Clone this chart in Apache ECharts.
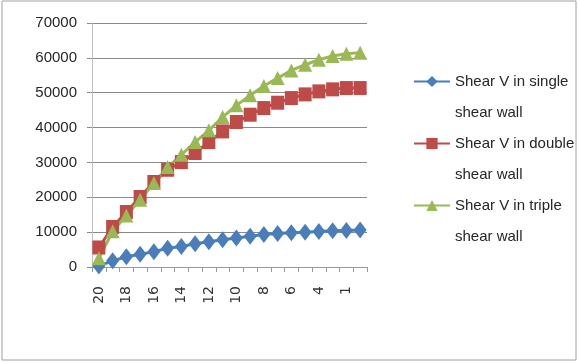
<!DOCTYPE html>
<html>
<head>
<meta charset="utf-8">
<script src="https://cdn.jsdelivr.net/npm/echarts@6/dist/echarts.min.js"></script>
<style>
  html, body { margin: 0; padding: 0; background: #fff; }
  #chart { width: 578px; height: 362px; }
</style>
</head>
<body>
<div id="chart"></div>
<script>
// Storey labels along the x axis (top storey first)
const storeys = ['20','19','18','17','16','15','14','13','12','11','10','9','8','7','6','5','4','3','1','0'];

// Storey shear V for each wall arrangement
const shearSingle = [300, 1760, 2940, 3630, 4410, 5390, 5880, 6670, 7250, 7840, 8330, 8820, 9310, 9610, 9800, 10000, 10200, 10390, 10490, 10590];
const shearDouble = [5600, 11470, 15770, 20080, 24380, 27900, 30100, 32700, 35850, 38900, 41590, 43690, 45600, 47130, 48470, 49520, 50380, 50960, 51340, 51340];
const shearTriple = [2500, 10230, 14800, 19300, 24090, 28680, 32200, 35850, 39200, 43020, 46370, 49240, 51910, 54200, 56400, 58030, 59460, 60520, 61180, 61500];

const seriesNames = ['Shear V in single shear wall', 'Shear V in double shear wall', 'Shear V in triple shear wall'];
const yTicks = { min: 0, max: 70000, step: 10000 };

const textFont = "'Liberation Sans', Arial, sans-serif";

const chart = echarts.init(document.getElementById('chart'), null, { renderer: 'canvas' });

function lineSeries(name, data, color, symbol, size) {
  return {
    name: name,
    type: 'line',
    data: data,
    symbol: symbol,
    symbolSize: size,
    showSymbol: true,
    showAllSymbol: true,
    lineStyle: { color: color, width: 3 },
    itemStyle: { color: color },
    emphasis: { disabled: true },
    animation: false
  };
}

chart.setOption({
  backgroundColor: '#ffffff',
  animation: false,
  graphic: [{
    type: 'rect',
    shape: { x: 2, y: 1, width: 574, height: 359 },
    style: { fill: 'none', stroke: '#a0a0a0', lineWidth: 1 },
    silent: true
  }],
  grid: { left: 92, right: 211, top: 23, bottom: 95, containLabel: false },
  legend: {
    orient: 'vertical',
    left: 408,
    top: 30,
    itemWidth: 36,
    itemHeight: 14,
    itemGap: -31,
    itemTextGap: 2,
    formatter: function (name) {
      return ' \n' + name.replace(' shear wall', '\nshear wall');
    },
    textStyle: {
      fontFamily: textFont,
      fontSize: 15,
      lineHeight: 31,
      color: '#262626'
    },
    data: seriesNames
  },
  xAxis: {
    type: 'category',
    data: storeys,
    boundaryGap: true,
    axisLine: { show: true, lineStyle: { color: '#9a9a9a', width: 1 } },
    axisTick: { show: true, interval: 0, alignWithLabel: false, length: 5, lineStyle: { color: '#9a9a9a' } },
    axisLabel: {
      interval: 1,
      rotate: 90,
      margin: 19,
      fontFamily: "'DejaVu Sans', sans-serif",
      fontSize: 14,
      color: '#333'
    },
    splitLine: { show: false }
  },
  yAxis: {
    type: 'value',
    min: yTicks.min,
    max: yTicks.max,
    interval: yTicks.step,
    axisLine: { show: true, lineStyle: { color: '#bdbdbd', width: 1 } },
    axisTick: { show: true, length: 5, lineStyle: { color: '#8a8a8a' } },
    axisLabel: {
      margin: 15,
      fontFamily: textFont,
      fontSize: 15,
      color: '#262626',
      formatter: function (v) { return String(v); }
    },
    splitLine: { show: true, lineStyle: { color: '#8a8a8a', width: 1 } }
  },
  series: [
    lineSeries(seriesNames[0], shearSingle, '#4a7ebb', 'diamond', [13, 17]),
    lineSeries(seriesNames[1], shearDouble, '#be4b48', 'rect', [13, 14]),
    lineSeries(seriesNames[2], shearTriple, '#98b954', 'triangle', [14, 14])
  ]
});
</script>
</body>
</html>
